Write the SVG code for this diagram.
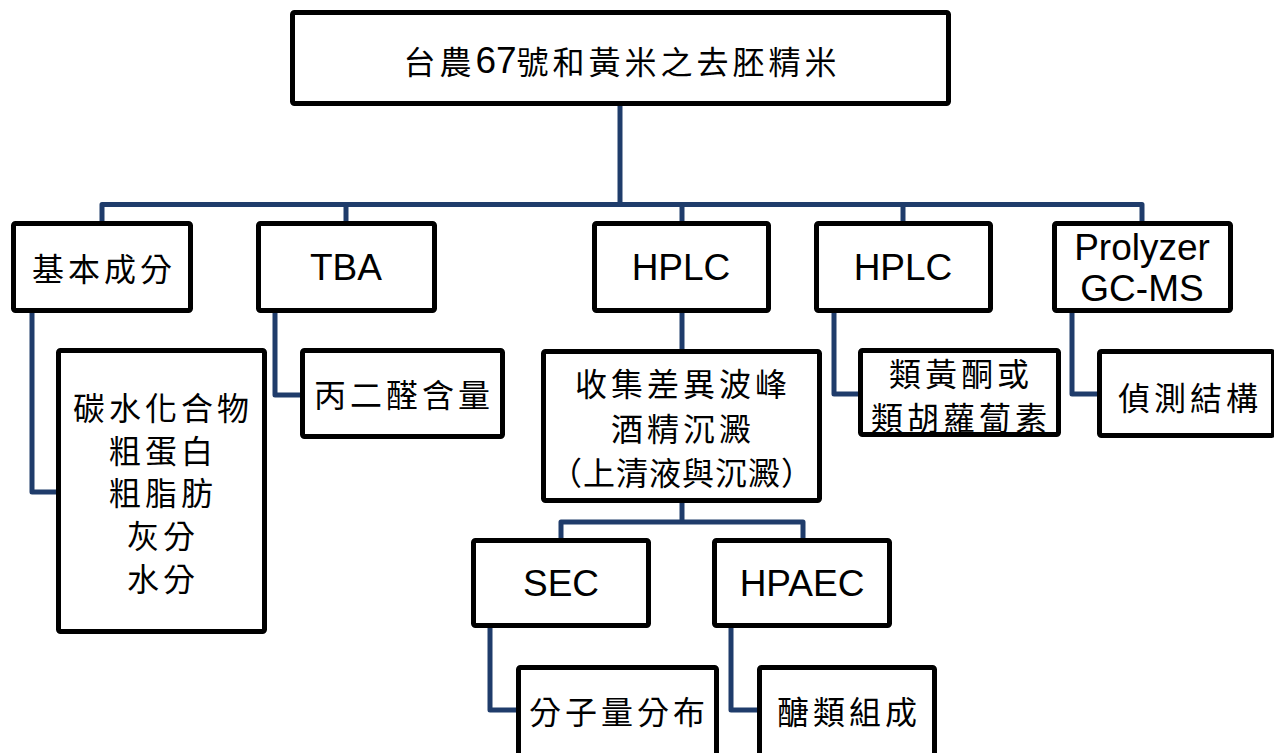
<svg xmlns="http://www.w3.org/2000/svg" width="1274" height="753" viewBox="0 0 1274 753">
<style>
.box{fill:#fff;stroke:#000;stroke-width:5;}
.ln{fill:none;stroke:#1f3c6b;stroke-width:5;stroke-linejoin:round;}
.cj{font-family:"Noto Sans CJK TC","Noto Sans CJK SC",sans-serif;font-size:32px;letter-spacing:4px;fill:#000;text-anchor:middle;dominant-baseline:central;}
.en{font-family:"Liberation Sans",Arial,sans-serif;font-size:37px;fill:#000;text-anchor:middle;dominant-baseline:central;}
.dg{font-family:"Liberation Sans",Arial,sans-serif;font-size:37px;letter-spacing:0px;}
</style>
<rect width="1274" height="753" fill="#fff"/>
<g id="connectors">
<path class="ln" d="M620,106 V204.5"/>
<path class="ln" d="M102,222 V204.5 H1142 V222"/>
<path class="ln" d="M346,204.5 V222"/>
<path class="ln" d="M682,204.5 V222"/>
<path class="ln" d="M903,204.5 V222"/>
<path class="ln" d="M32,313 V492 H57"/>
<path class="ln" d="M275,313 V395 H301"/>
<path class="ln" d="M682,313 V350"/>
<path class="ln" d="M834,313 V394 H859"/>
<path class="ln" d="M1072,313 V394 H1098"/>
<path class="ln" d="M682,503 V522"/>
<path class="ln" d="M561,539 V522 H803 V539"/>
<path class="ln" d="M490,628 V710 H517"/>
<path class="ln" d="M731,628 V710 H758"/>
</g>
<g id="root">
<rect class="box" x="292.5" y="12.5" width="656" height="91" rx="2"/>
<text class="cj" x="622" y="60">台農<tspan class="dg">67</tspan>號和黃米之去胚精米</text>
</g>
<g id="basic">
<rect class="box" x="13.5" y="223.5" width="177" height="87" rx="2"/>
<text class="cj" x="104" y="267">基本成分</text>
</g>
<g id="tba">
<rect class="box" x="258.5" y="223.5" width="176" height="87" rx="2"/>
<text class="en" x="346" y="267">TBA</text>
</g>
<g id="hplc1">
<rect class="box" x="594.5" y="223.5" width="174" height="87" rx="2"/>
<text class="en" x="681" y="267">HPLC</text>
</g>
<g id="hplc2">
<rect class="box" x="816.5" y="223.5" width="174" height="87" rx="2"/>
<text class="en" x="903" y="267">HPLC</text>
</g>
<g id="prolyzer">
<rect class="box" x="1054.5" y="223.5" width="176" height="87" rx="2"/>
<text class="en" x="1142" y="247">Prolyzer</text>
<text class="en" x="1142" y="288">GC-MS</text>
</g>
<g id="composition">
<rect class="box" x="58.5" y="350.5" width="206" height="281" rx="2"/>
<text class="cj" x="163" y="406">碳水化合物</text>
<text class="cj" x="163" y="449">粗蛋白</text>
<text class="cj" x="163" y="491">粗脂肪</text>
<text class="cj" x="163" y="534">灰分</text>
<text class="cj" x="163" y="577">水分</text>
</g>
<g id="mda">
<rect class="box" x="302.5" y="350.5" width="200" height="86" rx="2"/>
<text class="cj" x="404" y="393">丙二醛含量</text>
</g>
<g id="collect">
<rect class="box" x="543.5" y="351.5" width="276" height="149" rx="2"/>
<text class="cj" x="683" y="382">收集差異波峰</text>
<text class="cj" x="683" y="427">酒精沉澱</text>
<text class="cj" x="682" y="471" style="letter-spacing:1px">（上清液與沉澱）</text>
</g>
<g id="flavonoid">
<rect class="box" x="860.5" y="350.5" width="198" height="84" rx="2"/>
<text class="cj" x="961" y="372">類黃酮或</text>
<text class="cj" x="961" y="416">類胡蘿蔔素</text>
</g>
<g id="structure">
<rect class="box" x="1099.5" y="351.5" width="174" height="84" rx="2"/>
<text class="cj" x="1190" y="396">偵測結構</text>
</g>
<g id="sec">
<rect class="box" x="473.5" y="540.5" width="175" height="85" rx="2"/>
<text class="en" x="561" y="583">SEC</text>
</g>
<g id="hpaec">
<rect class="box" x="714.5" y="540.5" width="175" height="85" rx="2"/>
<text class="en" x="802" y="583">HPAEC</text>
</g>
<g id="mw">
<rect class="box" x="518.5" y="667.5" width="198" height="100" rx="2"/>
<text class="cj" x="619" y="710">分子量分布</text>
</g>
<g id="sugar">
<rect class="box" x="759.5" y="667.5" width="175" height="100" rx="2"/>
<text class="cj" x="849" y="710">醣類組成</text>
</g>
</svg>
